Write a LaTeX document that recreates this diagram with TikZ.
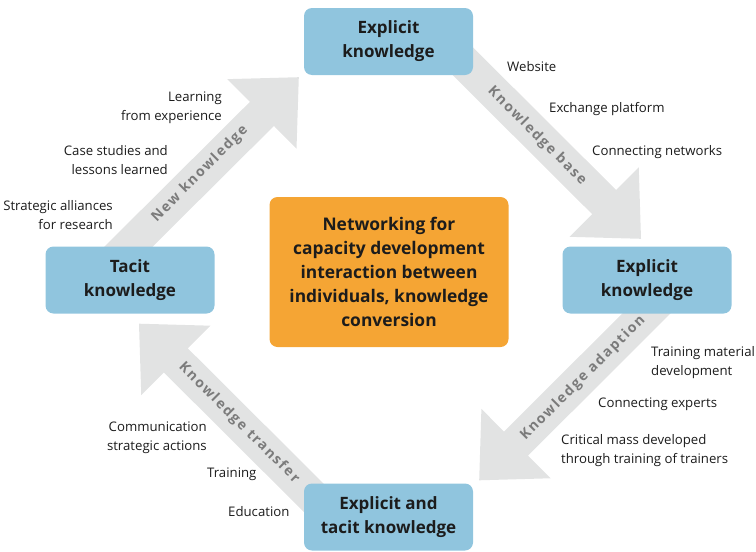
\documentclass[tikz,border=0pt]{standalone}
\usepackage{fontspec}
\setsansfont{Open Sans}
\usetikzlibrary{calc,backgrounds}
\definecolor{boxblue}{HTML}{90C5DE}
\definecolor{hubor}{HTML}{F5A534}
\definecolor{flowgray}{HTML}{E2E3E3}
\definecolor{labgray}{HTML}{7B7B7B}
\definecolor{txt}{HTML}{1C1C1C}
\tikzset{
  kbox/.style={fill=boxblue,rounded corners=8pt,minimum width=169pt,minimum height=67pt,
    align=center,text=txt,font=\sffamily\bfseries\fontsize{17}{24}\selectfont},
  hubbox/.style={kbox,fill=hubor,minimum width=239pt,minimum height=150pt,
    font=\sffamily\bfseries\fontsize{17.4}{24}\selectfont},
  flowfill/.style={fill=flowgray},
  flowlab/.style={text=labgray,inner sep=0pt,
    font=\sffamily\bfseries\fontsize{14}{16}\selectfont\addfontfeatures{LetterSpace=12}},
  note/.style={text=txt,inner sep=0pt,font=\sffamily\fontsize{13.2}{19}\selectfont}
}
% broad arrow: #1 start, #2 tip
\newcommand\flowarrow[2]{%
  \coordinate (fb) at ($(#2)!52pt!(#1)$);
  \fill[flowfill] ($(#1)!17pt!90:(#2)$) -- ($(fb)!17pt!90:(#2)$) -- ($(fb)!49pt!90:(#2)$)
    -- (#2) -- ($(fb)!49pt!-90:(#2)$) -- ($(fb)!17pt!-90:(#2)$) -- ($(#1)!17pt!-90:(#2)$) -- cycle;
}
\begin{document}
\begin{tikzpicture}[x=1pt,y=-1pt]
\useasboundingbox (0,0) rectangle (756,552);
% boxes
\node[kbox] (expl1) at (388.5,41.5) {Explicit\\knowledge};
\node[kbox] (expl2) at (647,280) {Explicit\\knowledge};
\node[kbox] (tacit) at (130,280) {Tacit\\knowledge};
\node[kbox] (both) at (388.5,517) {Explicit and\\tacit knowledge};
\node[hubbox] (hub) at (389,272) {Networking for\\capacity development\\interaction between\\individuals, knowledge\\conversion};
% arrows behind the boxes
\coordinate (nk-s) at ([xshift=-35pt]tacit.center);
\coordinate (nk-t) at ([xshift=-5pt,yshift=-2pt]expl1.south west);
\coordinate (kb-s) at ([xshift=54.5pt]expl1.center);
\coordinate (kb-t) at ([xshift=-6pt,yshift=7.5pt]expl2.north);
\coordinate (ka-s) at ([xshift=33pt]expl2.center);
\coordinate (ka-t) at ([xshift=6pt,yshift=3pt]both.north east);
\coordinate (kt-s) at ([xshift=-55.5pt]both.center);
\coordinate (kt-t) at ([xshift=9pt,yshift=-10pt]tacit.south);
\begin{scope}[on background layer]
  \flowarrow{nk-s}{nk-t}
  \flowarrow{kb-s}{kb-t}
  \flowarrow{ka-s}{ka-t}
  \flowarrow{kt-s}{kt-t}
\end{scope}
% arrow labels
\node[flowlab,rotate=45] (nk) at (200,174) {New knowledge};
\node[flowlab,rotate=-45] (kb) at (537,136) {Knowledge base};
\node[flowlab,rotate=45] (ka) at (583,378) {Knowledge adaption};
\node[flowlab,rotate=-45] (kt) at (239,423) {Knowledge transfer};
% notes
\node[note,anchor=west] (web) at (507,67) {Website};
\node[note,anchor=west] (exch) at (549,109) {Exchange platform};
\node[note,anchor=west] (conn) at (592,152) {Connecting networks};
\node[note,anchor=east,align=right] (learn) at (222,107.5) {Learning\\from experience};
\node[note,anchor=east,align=right] (case) at (168,160) {Case studies and\\lessons learned};
\node[note,anchor=east,align=right] (strat) at (113,215) {Strategic alliances\\for research};
\node[note,anchor=west,align=left] (tmat) at (651,363) {Training material\\development};
\node[note,anchor=west] (cexp) at (598,404) {Connecting experts};
\node[note,anchor=west,align=left] (crit) at (561,451) {Critical mass developed\\through training of trainers};
\node[note,anchor=east,align=right] (comm) at (207,437.5) {Communication\\strategic actions};
\node[note,anchor=west] (train) at (207,474) {Training};
\node[note,anchor=west] (edu) at (228,512) {Education};
\end{tikzpicture}
\end{document}
